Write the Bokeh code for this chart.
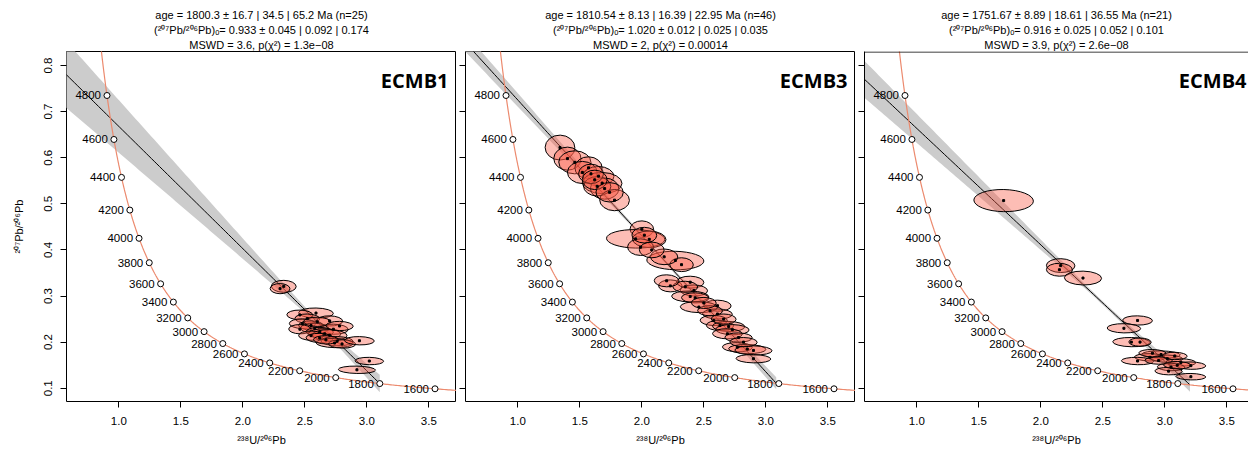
import numpy as np
from bokeh.plotting import figure
from bokeh.layouts import row
from bokeh.models import FixedTicker, Title, Span, CustomJSTickFormatter
from bokeh.embed import file_html
from bokeh.resources import INLINE
from bokeh.core.properties import value

# ---------------- data ----------------
samples = ["ECMB1", "ECMB3", "ECMB4"]
ages = [1800.3, 1810.54, 1751.67]
intercepts = [0.933, 1.020, 0.916]
title_age = [
    "age = 1800.3 ± 16.7 | 34.5 | 65.2 Ma (n=25)",
    "age = 1810.54 ± 8.13 | 16.39 | 22.95 Ma (n=46)",
    "age = 1751.67 ± 8.89 | 18.61 | 36.55 Ma (n=21)",
]
title_pb = [
    "(²⁰⁷Pb/²⁰⁶Pb)ₒ= 0.933 ± 0.045 | 0.092 | 0.174",
    "(²⁰⁷Pb/²⁰⁶Pb)ₒ= 1.020 ± 0.012 | 0.025 | 0.035",
    "(²⁰⁷Pb/²⁰⁶Pb)ₒ= 0.916 ± 0.025 | 0.052 | 0.101",
]
title_mswd = [
    "MSWD = 3.6, p(χ²) = 1.3e−08",
    "MSWD = 2, p(χ²) = 0.00014",
    "MSWD = 3.9, p(χ²) = 2.6e−08",
]
# band (confidence envelope) half-width parameters: min half-width, width at left edge, narrowest x
band_min = [0.006, 0.003, 0.004]
band_left = [0.072, 0.020, 0.040]
band_x0 = [2.6, 2.1, 2.5]

concordia_ages = [1600, 1800, 2000, 2200, 2400, 2600, 2800, 3000, 3200, 3400,
                  3600, 3800, 4000, 4200, 4400, 4600, 4800]

x_ticks = [1.0, 1.5, 2.0, 2.5, 3.0, 3.5]
y_ticks = [0.1, 0.2, 0.3, 0.4, 0.5, 0.6, 0.7, 0.8]

# ECMB1 ellipses: x, y, width, height
e1_x = [2.33, 2.30, 2.59, 2.46, 2.52, 2.70, 2.48, 2.55, 2.58, 2.73, 2.46, 2.62, 2.66,
        2.70, 2.55, 2.62, 2.76, 2.74, 2.80, 2.94, 2.67, 3.02, 2.92, 2.60, 2.78]
e1_y = [0.321, 0.316, 0.263, 0.259, 0.251, 0.246, 0.240, 0.236, 0.230, 0.228, 0.228, 0.222, 0.218,
        0.215, 0.214, 0.209, 0.202, 0.198, 0.196, 0.203, 0.205, 0.159, 0.140, 0.244, 0.235]
e1_w = [0.20, 0.16, 0.28, 0.21, 0.20, 0.21, 0.21, 0.20, 0.23, 0.24, 0.18, 0.22, 0.26,
        0.28, 0.20, 0.22, 0.26, 0.30, 0.22, 0.24, 0.20, 0.23, 0.30, 0.22, 0.22]
e1_h = [0.026, 0.022, 0.022, 0.021, 0.020, 0.022, 0.021, 0.020, 0.022, 0.022, 0.020, 0.020, 0.022,
        0.024, 0.020, 0.020, 0.020, 0.020, 0.018, 0.018, 0.018, 0.016, 0.016, 0.020, 0.020]

# ECMB3 ellipses
e3_x = [1.34, 1.40, 1.46, 1.57, 1.52, 1.65, 1.68, 1.70, 1.64, 1.78, 1.59, 1.62,
        2.00, 1.95, 2.06, 1.99, 2.02, 2.27, 2.32, 2.18,
        2.23, 2.39, 2.42, 2.39, 2.43, 2.61, 2.46, 2.61, 2.58, 2.63, 2.70, 2.73, 2.69,
        2.77, 2.85, 2.90, 2.90, 2.55, 2.66, 2.78, 2.50, 2.35, 2.82, 2.08, 1.74, 2.20]
e3_y = [0.622, 0.598, 0.590, 0.578, 0.568, 0.560, 0.545, 0.533, 0.538, 0.508, 0.565, 0.552,
        0.445, 0.424, 0.423, 0.406, 0.432, 0.377, 0.368, 0.385,
        0.322, 0.330, 0.312, 0.299, 0.296, 0.279, 0.276, 0.261, 0.247, 0.236, 0.234, 0.227, 0.218,
        0.189, 0.185, 0.182, 0.164, 0.268, 0.250, 0.210, 0.285, 0.320, 0.200, 0.400, 0.525, 0.333]
e3_w = [0.24, 0.22, 0.26, 0.22, 0.24, 0.25, 0.32, 0.23, 0.22, 0.24, 0.20, 0.20,
        0.19, 0.47, 0.27, 0.21, 0.20, 0.46, 0.19, 0.22,
        0.19, 0.22, 0.22, 0.30, 0.22, 0.22, 0.30, 0.24, 0.22, 0.22, 0.26, 0.27, 0.24,
        0.24, 0.30, 0.30, 0.28, 0.20, 0.20, 0.22, 0.20, 0.20, 0.22, 0.20, 0.22, 0.20]
e3_h = [0.054, 0.050, 0.050, 0.048, 0.048, 0.042, 0.046, 0.046, 0.042, 0.046, 0.042, 0.042,
        0.036, 0.040, 0.036, 0.036, 0.034, 0.040, 0.030, 0.034,
        0.026, 0.026, 0.024, 0.024, 0.022, 0.024, 0.024, 0.022, 0.022, 0.022, 0.022, 0.022, 0.022,
        0.020, 0.020, 0.020, 0.018, 0.022, 0.022, 0.020, 0.024, 0.024, 0.020, 0.034, 0.042, 0.026]

# ECMB4 ellipses
e4_x = [1.70, 2.16, 2.15, 2.34, 2.78, 2.67, 2.73, 2.80, 2.97, 2.88, 2.78, 3.02, 3.13,
        3.21, 3.05, 3.03, 3.21, 2.95, 3.10, 2.90, 3.08]
e4_y = [0.507, 0.366, 0.357, 0.339, 0.247, 0.230, 0.200, 0.200, 0.173, 0.167, 0.159, 0.164, 0.156,
        0.149, 0.146, 0.137, 0.125, 0.160, 0.150, 0.176, 0.170]
e4_w = [0.48, 0.23, 0.21, 0.30, 0.24, 0.27, 0.30, 0.18, 0.31, 0.25, 0.26, 0.25, 0.24,
        0.24, 0.22, 0.22, 0.24, 0.22, 0.22, 0.22, 0.20]
e4_h = [0.048, 0.030, 0.028, 0.030, 0.020, 0.020, 0.020, 0.018, 0.016, 0.016, 0.016, 0.016, 0.016,
        0.016, 0.016, 0.016, 0.014, 0.016, 0.016, 0.016, 0.016]

ell_x = [e1_x, e3_x, e4_x]
ell_y = [e1_y, e3_y, e4_y]
ell_w = [e1_w, e3_w, e4_w]
ell_h = [e1_h, e3_h, e4_h]

# ---------------- model ----------------
L238 = 1.55125e-4   # 1/Ma
L235 = 9.8485e-4
U85 = 137.818


def tw(t):
    t = np.asarray(t, dtype=float)
    e8 = np.exp(L238 * t) - 1.0
    e5 = np.exp(L235 * t) - 1.0
    return 1.0 / e8, e5 / e8 / U85


FONT = "Liberation Sans"
X0, X1 = 0.578, 3.723
Y0, Y1 = 0.0712, 0.8304
PXX = 124.0
FRAME_H = 350

figs = []
for i in range(3):
    x_end = X1 if i < 2 else X0 + 384.0 / PXX
    fw = 390 if i < 2 else 384
    p = figure(frame_width=fw, frame_height=FRAME_H,
               x_range=(X0, x_end), y_range=(Y0, Y1),
               output_backend="svg", toolbar_location=None,
               min_border_left=66 if i == 0 else 9, min_border_right=0,
               min_border_top=51, min_border_bottom=52)
    p.grid.visible = False
    p.background_fill_color = "white"
    p.border_fill_color = "white"
    if i < 2:
        p.outline_line_color = "black"
        p.outline_line_width = 1
    else:
        p.outline_line_color = None

    # titles (added from the closest to the frame outward)
    for txt in [title_mswd[i], title_pb[i], title_age[i]]:
        p.add_layout(Title(text=txt, align="center", text_font=FONT,
                           text_font_size="11px", text_font_style="normal",
                           text_color="black", standoff=1), "above")

    # axes
    for ax in [p.xaxis[0], p.yaxis[0]]:
        ax.major_tick_out = 6
        ax.major_tick_in = 0
        ax.minor_tick_line_color = None
        ax.major_tick_line_color = "black"
        ax.axis_line_color = None if i < 2 else "black"
        ax.major_label_text_font = FONT
        ax.major_label_text_font_size = "11.5px"
        ax.major_label_text_color = "black"
        ax.axis_label_text_font = FONT
        ax.axis_label_text_font_size = "11px"
        ax.axis_label_text_font_style = "normal"
        ax.axis_label_text_color = "black"
    p.xaxis.ticker = FixedTicker(ticks=x_ticks)
    p.xaxis.formatter = CustomJSTickFormatter(code="return tick.toFixed(1);")
    p.xaxis.major_label_standoff = 9
    p.xaxis.axis_label = "²³⁸U/²⁰⁶Pb"
    p.xaxis.axis_label_standoff = 6
    p.yaxis.ticker = FixedTicker(ticks=y_ticks)
    p.yaxis.major_label_orientation = "vertical"
    if i == 0:
        p.yaxis.formatter = CustomJSTickFormatter(code="return tick.toFixed(1);")
        p.yaxis.major_label_standoff = 8
        p.yaxis.axis_label = "²⁰⁷Pb/²⁰⁶Pb"
        p.yaxis.axis_label_standoff = 17
    else:
        # tick marks only, no labels (shared y axis)
        p.yaxis.major_label_standoff = 0
        p.yaxis.major_label_text_font_size = "0px"
        p.yaxis.major_label_text_color = None
        p.yaxis.major_label_text_alpha = 0
    if i == 2:
        p.add_layout(Span(location=Y1 - 0.5 / 461.0, dimension="width",
                          line_color="black", line_width=1))

    # discordia line and envelope
    xi, yi = tw(ages[i])
    yint = float(yi)
    xint = float(xi)
    slope = (yint - intercepts[i]) / xint
    xs = np.linspace(X0 - 0.02, xint, 120)
    ys = intercepts[i] + slope * xs
    a = band_min[i]
    b = np.sqrt(band_left[i] ** 2 - a ** 2) / (band_x0[i] - X0)
    hw = np.sqrt(a ** 2 + (b * (xs - band_x0[i])) ** 2)
    p.patch(np.concatenate([xs, xs[::-1]]), np.concatenate([ys + hw, (ys - hw)[::-1]]),
            fill_color="#cccccc", line_color=None)
    p.line(xs, ys, line_color="black", line_width=1)

    # concordia curve
    tt = np.linspace(1400, 5200, 600)
    cx, cy = tw(tt)
    p.line(cx, cy, line_color="#ec8a6e", line_width=1.2)

    # ellipses
    p.ellipse(x=ell_x[i], y=ell_y[i], width=ell_w[i], height=ell_h[i], angle=-0.02,
              fill_color="#fa5a46", fill_alpha=0.40, line_color="black", line_width=1)
    p.scatter(x=ell_x[i], y=ell_y[i], marker="square", size=2,
              fill_color="black", line_color="black")

    # concordia ticks and labels
    mx, my = tw(concordia_ages)
    p.scatter(x=mx, y=my, marker="circle", size=6, fill_color="white",
              line_color="black", line_width=1)
    p.text(x=mx, y=my, text=[str(a_) for a_ in concordia_ages], x_offset=-6, y_offset=0,
           text_align="right", text_baseline="middle", text_font=value(FONT),
           text_font_size="11.5px", text_color="black")

    # sample name
    p.text(x=[X0 + (448 - 66) / PXX], y=[0.8 - 15.0 / 461.0], text=[samples[i]],
           text_align="right", text_baseline="alphabetic", text_font=value("Open Sans"),
           text_font_style="bold", text_font_size="20px", text_color="black")
    figs.append(p)

layout = row(*figs, spacing=0)
open("out.html", "w").write(file_html(layout, INLINE))
